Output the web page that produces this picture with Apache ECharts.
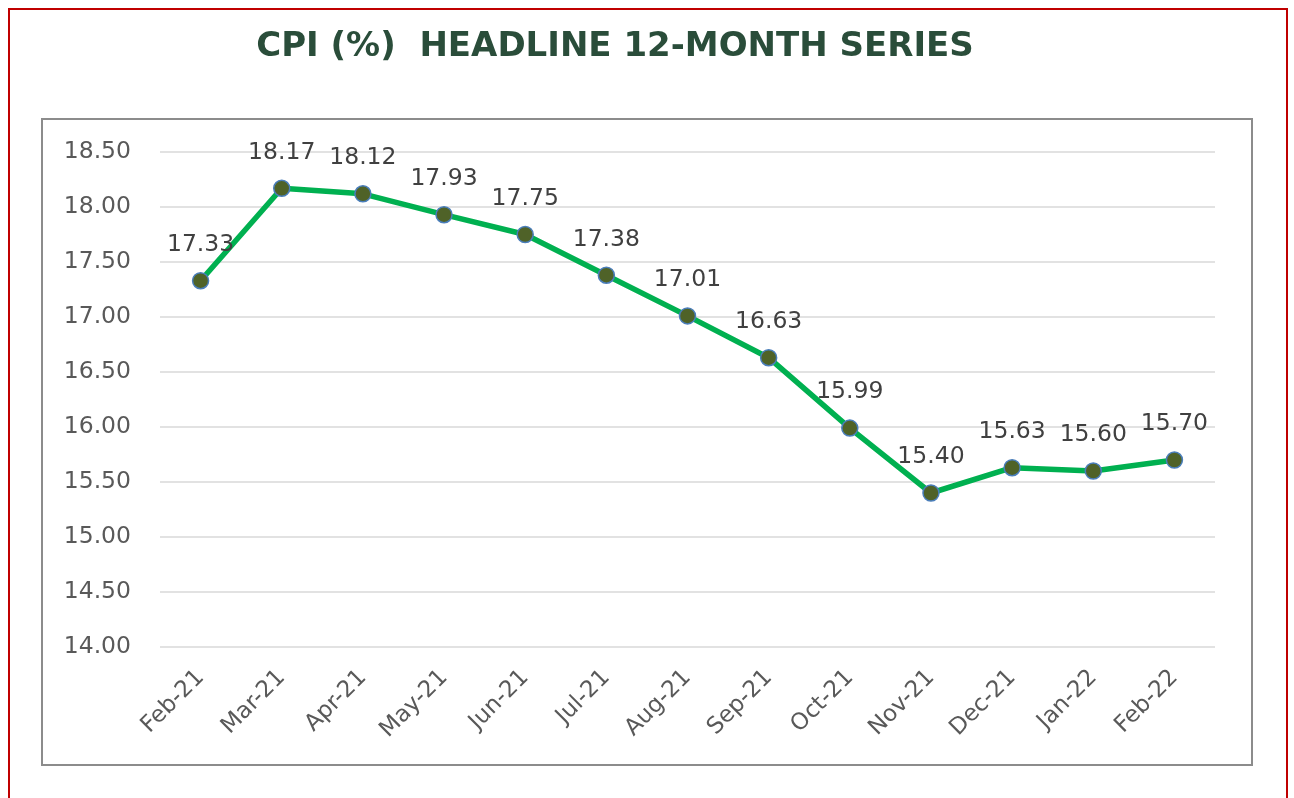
<!DOCTYPE html>
<html>
<head>
<meta charset="utf-8">
<script src="https://cdn.jsdelivr.net/npm/echarts@6/dist/echarts.min.js"></script>
<style>
  html, body { margin: 0; padding: 0; background: #fff; }
  #main { width: 1294px; height: 798px; }
</style>
</head>
<body>
<div id="main"></div>
<script>
const months = ['Feb-21', 'Mar-21', 'Apr-21', 'May-21', 'Jun-21', 'Jul-21', 'Aug-21',
  'Sep-21', 'Oct-21', 'Nov-21', 'Dec-21', 'Jan-22', 'Feb-22']
const cpiValues = [17.33, 18.17, 18.12, 17.93, 17.75, 17.38, 17.01, 16.63, 15.99, 15.40, 15.63, 15.60, 15.70]

const chart = echarts.init(document.getElementById('main'))
const font = 'DejaVu Sans'

chart.setOption({
  animation: false,
  backgroundColor: '#fff',
  title: {
    text: 'CPI (%)  HEADLINE 12-MONTH SERIES',
    left: 610,
    textAlign: 'center',
    top: 25,
    textStyle: { fontFamily: font, fontWeight: 'bold', fontSize: 34, color: '#2a4d3a' }
  },
  graphic: [
    {
      type: 'rect',
      shape: { x: 9, y: 9, width: 1278, height: 800 },
      style: { fill: 'none', stroke: '#c00000', lineWidth: 2 },
      z: -1
    },
    {
      type: 'rect',
      shape: { x: 42, y: 119, width: 1210, height: 646 },
      style: { fill: 'none', stroke: '#8c8c8c', lineWidth: 2 },
      z: -1
    }
  ],
  grid: { left: 160, right: 79, top: 152, bottom: 151 },
  xAxis: {
    type: 'category',
    data: months,
    boundaryGap: true,
    axisLine: { show: false },
    axisTick: { show: false },
    axisLabel: { rotate: 45, margin: 27, fontFamily: font, fontSize: 23, color: '#595959' }
  },
  yAxis: {
    type: 'value',
    min: 14,
    max: 18.5,
    interval: 0.5,
    axisLine: { show: false },
    axisTick: { show: false },
    splitLine: { lineStyle: { color: '#d9d9d9', width: 1.5 } },
    axisLabel: {
      margin: 29,
      fontFamily: font,
      fontSize: 23.5,
      color: '#595959',
      formatter: v => v.toFixed(2)
    }
  },
  series: [{
    type: 'line',
    data: cpiValues,
    symbol: 'circle',
    symbolSize: 16,
    lineStyle: { color: '#00b050', width: 5.5 },
    itemStyle: { color: '#4f6228', borderColor: '#4a7ebb', borderWidth: 1.5 },
    label: {
      show: true,
      position: 'top',
      distance: 15,
      fontFamily: font,
      fontSize: 23.5,
      color: '#404040',
      formatter: p => p.value.toFixed(2)
    }
  }]
})
</script>
</body>
</html>
